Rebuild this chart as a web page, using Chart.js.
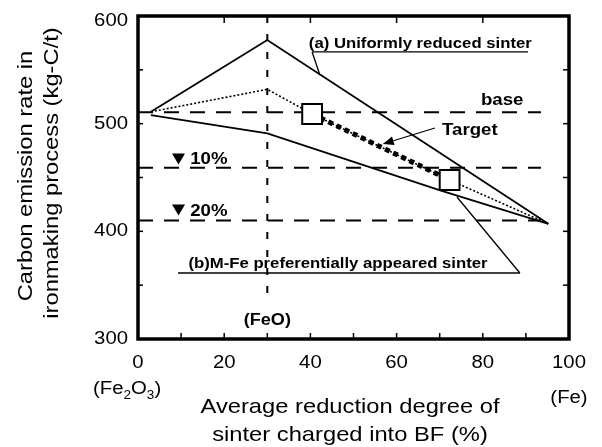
<!DOCTYPE html>
<html>
<head>
<meta charset="utf-8">
<script src="https://cdn.jsdelivr.net/npm/chart.js@4.4.1/dist/chart.umd.min.js"></script>
<style>
  html, body { margin: 0; padding: 0; background: #fff; }
  #wrap { width: 602px; height: 447px; }
</style>
</head>
<body>
<div id="wrap"><canvas id="emissionChart" width="602" height="447"></canvas></div>
<script>
// Axis ticks
const xTicks = [0, 20, 40, 60, 80, 100];
const yTicks = [300, 400, 500, 600];

// (a) Uniformly reduced sinter
const uniformX = [3, 30, 95.2];
const uniformY = [511, 577.7, 407];

// (b) M-Fe preferentially appeared sinter
const mfeX = [3, 30, 70.3, 95.2];
const mfeY = [508, 491, 437.8, 407];

// dotted reference path through the two marked points
const pathX = [3, 30, 40.4, 72.3, 95.2];
const pathY = [511, 531.9, 509, 447.7, 407];

// target: from current point to goal point
const targetX = [40.4, 72.3];
const targetY = [509, 447.7];

// base level and the -10% / -20% levels
const levelNames = ['base', '10%', '20%'];
const levelValues = [510.5, 459, 410];
const levelEnd = 93.5;

// FeO position
const feoX = 30;
const feoBottom = 336;

const pts = (xs, ys) => xs.map((x, i) => ({ x: x, y: ys[i] }));

const SX = 1.13;
const FONT = "'Liberation Sans', Arial, sans-serif";

function txt(ctx, str, x, y, size, bold, align, rot) {
    ctx.save();
    ctx.translate(x, y);
    if (rot) ctx.rotate(rot);
    ctx.scale(SX, 1);
    ctx.font = (bold ? 'bold ' : '') + size + 'px ' + FONT;
    ctx.textAlign = align || 'center';
    ctx.fillStyle = '#000';
    ctx.fillText(str, 0, 0);
    ctx.restore();
}

function line(ctx, x1, y1, x2, y2, w) {
    ctx.beginPath();
    ctx.lineWidth = w;
    ctx.moveTo(x1, y1);
    ctx.lineTo(x2, y2);
    ctx.stroke();
}

const decorations = {
    id: 'decorations',
    afterDraw(chart) {
        const ctx = chart.ctx;
        const xs = chart.scales.x, ys = chart.scales.y;
        const px = v => xs.getPixelForValue(v);
        const py = v => ys.getPixelForValue(v);
        const a = chart.chartArea;
        ctx.save();
        ctx.strokeStyle = '#000';
        ctx.fillStyle = '#000';
        ctx.textBaseline = 'alphabetic';

        // frame
        ctx.lineWidth = 3.5;
        ctx.strokeRect(a.left, a.top, a.right - a.left, a.bottom - a.top);

        // inner ticks
        for (let v = 10; v < 100; v += 10) line(ctx, px(v), a.bottom, px(v), a.bottom - 6, 1.5);
        for (let v = 20; v < 100; v += 20) line(ctx, px(v), a.top, px(v), a.top + 7, 1.5);
        for (let v = 350; v < 600; v += 50) {
            line(ctx, a.left, py(v), a.left + 5, py(v), 1.5);
            line(ctx, a.right, py(v), a.right - 6, py(v), 1.5);
        }

        // tick labels
        xTicks.forEach(v => txt(ctx, String(v), px(v), a.bottom + 29, 18, false, 'center'));
        ctx.textBaseline = 'middle';
        yTicks.forEach(v => txt(ctx, String(v), a.left - 10, Math.max(py(v), 21), 18, false, 'right'));
        ctx.textBaseline = 'alphabetic';

        // (Fe2O3) with subscripts
        let cx = px(0) - 45;
        const by = a.bottom + 55;
        [['(Fe', 18, 0], ['2', 12, 5], ['O', 18, 0], ['3', 12, 5], [')', 18, 0]].forEach(p => {
            ctx.font = p[1] + 'px ' + FONT;
            txt(ctx, p[0], cx, by + p[2], p[1], false, 'left');
            cx += ctx.measureText(p[0]).width * SX;
        });
        txt(ctx, '(Fe)', px(100), a.bottom + 64, 18, false, 'center');

        // axis titles
        const midX = 350;
        txt(ctx, 'Average reduction degree of', midX, 413, 21, false, 'center');
        txt(ctx, 'sinter charged into BF (%)', midX, 441, 21, false, 'center');
        txt(ctx, 'Carbon emission rate in', 32, 176, 21, false, 'center', -Math.PI / 2);
        txt(ctx, 'ironmaking process (kg-C/t)', 58, 173, 21, false, 'center', -Math.PI / 2);

        // (a) label with underline and leader
        txt(ctx, '(a) Uniformly reduced sinter', px(65.5), py(570.3), 14.8, true, 'center');
        line(ctx, px(40.4), py(566.6), px(90.5), py(566.6), 1.3);
        line(ctx, px(40.4), py(566.6), px(42.2), py(545.2), 1.3);

        // (b) label with underline and leader
        txt(ctx, '(b)M-Fe preferentially appeared sinter', px(46.4), py(366), 14.8, true, 'center');
        line(ctx, px(9.3), py(361.3), px(88.6), py(361.3), 1.3);
        line(ctx, px(88.6), py(361.3), px(74.0), py(431.9), 1.3);

        // base / Target
        txt(ctx, levelNames[0], px(84.5), py(517.3), 16.5, true, 'center');
        txt(ctx, 'Target', px(77.0), py(489.5), 16.5, true, 'center');
        const ax1 = px(68.9), ay1 = py(496), ax2 = px(56.8), ay2 = py(481.1);
        const ang = Math.atan2(ay2 - ay1, ax2 - ax1);
        const hl = 11, hw = 4.5;
        const bx = ax2 - hl * Math.cos(ang), byy = ay2 - hl * Math.sin(ang);
        line(ctx, ax1, ay1, bx, byy, 1.2);
        ctx.beginPath();
        ctx.moveTo(ax2, ay2);
        ctx.lineTo(bx + hw * Math.sin(ang), byy - hw * Math.cos(ang));
        ctx.lineTo(bx - hw * Math.sin(ang), byy + hw * Math.cos(ang));
        ctx.closePath();
        ctx.fill();

        // ▼10% / ▼20%
        [[467.2, 462.5, levelNames[1]], [419.8, 414.2, levelNames[2]]].forEach(r => {
            const tx = px(9.4), ty = py(r[0]);
            ctx.beginPath();
            ctx.moveTo(tx - 6.5, ty - 5.5);
            ctx.lineTo(tx + 6.5, ty - 5.5);
            ctx.lineTo(tx, ty + 5.5);
            ctx.closePath();
            ctx.fill();
            txt(ctx, r[2], px(12.1), py(r[1]), 16.5, true, 'left');
        });

        // (FeO)
        txt(ctx, '(FeO)', px(feoX), py(313), 16, true, 'center');
        ctx.restore();
    }
};

const levelSets = levelValues.map(v => ({
    data: pts([0, levelEnd], [v, v]),
    showLine: true, borderColor: '#000', borderWidth: 2,
    borderDash: [15, 11], pointRadius: 0
}));

new Chart(document.getElementById('emissionChart').getContext('2d'), {
    type: 'scatter',
    data: {
        datasets: [
            {
                data: pts(targetX, targetY),
                showLine: false,
                pointStyle: 'rect',
                pointRadius: 14,
                pointBorderWidth: 2,
                pointBorderColor: '#000',
                pointBackgroundColor: '#fff'
            },
            {
                data: pts(targetX, targetY),
                showLine: true, borderColor: '#000', borderWidth: 5,
                borderDash: [5, 4], pointRadius: 0
            },
            {
                data: pts(pathX, pathY),
                showLine: true, borderColor: '#000', borderWidth: 1.6,
                borderDash: [2, 2], pointRadius: 0
            },
            {
                data: pts(uniformX, uniformY),
                showLine: true, borderColor: '#000', borderWidth: 1.8, pointRadius: 0
            },
            {
                data: pts(mfeX, mfeY),
                showLine: true, borderColor: '#000', borderWidth: 1.8, pointRadius: 0
            },
            ...levelSets,
            {
                data: pts([feoX, feoX], [600, feoBottom]),
                showLine: true, borderColor: '#000', borderWidth: 2,
                borderDash: [7, 11], pointRadius: 0
            }
        ]
    },
    options: {
        responsive: false,
        animation: false,
        layout: { padding: { left: 138, top: 16, right: 33, bottom: 108 } },
        scales: {
            x: { type: 'linear', min: 0, max: 100, display: false },
            y: { type: 'linear', min: 300, max: 600, display: false }
        },
        plugins: {
            legend: { display: false },
            tooltip: { enabled: false }
        }
    },
    plugins: [decorations]
});
</script>
</body>
</html>
